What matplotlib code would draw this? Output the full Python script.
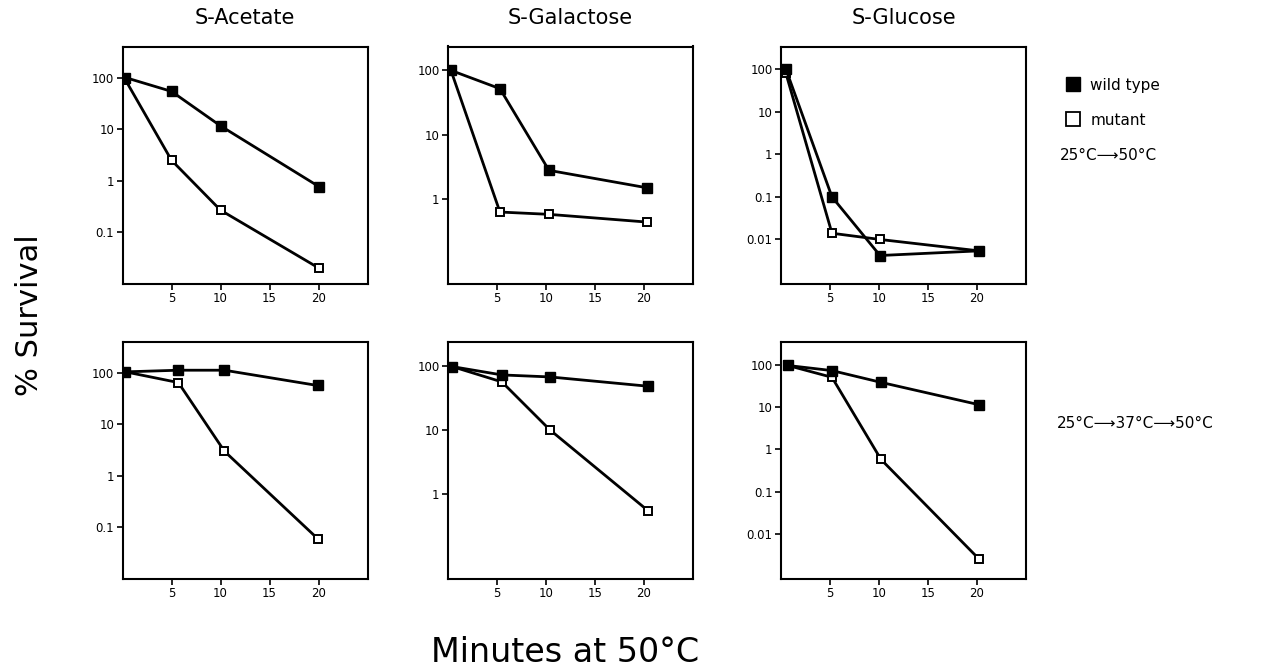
import matplotlib
matplotlib.use("Agg")
import matplotlib.pyplot as plt
from matplotlib.lines import Line2D

plt.rcParams["font.family"] = ["DejaVu Sans"]

# column titles
media = ["S-Acetate", "S-Galactose", "S-Glucose"]
tick_x = [5, 10, 15, 20]

# top row: 25C -> 50C  (minutes, % survival)
acetate_t = [0.3, 5.0, 10.0, 20.1]
acetate_wt = [100, 54, 11.6, 0.76]
acetate_mut = [90, 2.5, 0.27, 0.02]

galactose_t = [0.3, 5.3, 10.3, 20.3]
galactose_wt = [100, 52, 2.8, 1.5]
galactose_mut = [100, 0.63, 0.58, 0.44]

glucose_t = [0.5, 5.2, 10.1, 20.2]
glucose_wt = [100, 0.1, 0.0042, 0.0054]
glucose_mut = [80, 0.014, 0.01, 0.0054]

# bottom row: 25C -> 37C -> 50C
acetate2_t = [0.3, 5.7, 10.4, 19.9]
acetate2_wt = [105, 113, 113, 57]
acetate2_mut = [105, 65, 3.0, 0.06]

galactose2_t = [0.45, 5.5, 10.4, 20.4]
galactose2_wt = [97, 72, 67, 48]
galactose2_mut = [97, 56, 10, 0.55]

glucose2_t = [0.7, 5.2, 10.2, 20.2]
glucose2_wt = [95, 72, 38, 11.3]
glucose2_mut = [95, 50, 0.58, 0.0026]

# y range + labelled ticks per column
ylims = [(0.01, 400), (0.048, 235), (0.0009, 340)]
yticks = [[0.1, 1, 10, 100], [1, 10, 100], [0.01, 0.1, 1, 10, 100]]
ylabels = [["0.1", "1", "10", "100"], ["1", "10", "100"],
           ["0.01", "0.1", "1", "10", "100"]]

rows = [
    [(acetate_t, acetate_wt, acetate_mut),
     (galactose_t, galactose_wt, galactose_mut),
     (glucose_t, glucose_wt, glucose_mut)],
    [(acetate2_t, acetate2_wt, acetate2_mut),
     (galactose2_t, galactose2_wt, galactose2_mut),
     (glucose2_t, glucose2_wt, glucose2_mut)],
]

fig = plt.figure(figsize=(12.67, 6.71), dpi=100)

W, H = 1267.0, 671.0
lefts = [122.5, 448, 781]
row_box = [(46.5, 284), (342, 578.5)]  # top, bottom in px
width = 245

for r, row in enumerate(rows):
    top, bot = row_box[r]
    for c, (t, wt, mut) in enumerate(row):
        ax = fig.add_axes([lefts[c] / W, 1 - bot / H, width / W, (bot - top) / H])
        ax.set_yscale("log")
        ax.plot(t, mut, color="black", lw=2, marker="s", ms=6,
                mfc="white", mec="black", mew=1.4, zorder=3)
        ax.plot(t, wt, color="black", lw=2, marker="s", ms=6.5,
                mfc="black", mec="black", zorder=4)
        ax.set_xlim(0, 25)
        ax.set_ylim(*ylims[c])
        ax.set_xticks(tick_x)
        ax.set_xticklabels([str(v) for v in tick_x])
        ax.set_yticks(yticks[c])
        ax.set_yticklabels(ylabels[c])
        ax.minorticks_off()
        ax.tick_params(direction="out", length=4, width=1.2, labelsize=8.5, pad=2)
        for s in ax.spines.values():
            s.set_linewidth(1.5)
        if r == 0:
            ax.set_title(media[c], fontsize=15, pad=16)

fig.text(30 / W, 1 - 315 / H, "% Survival", rotation=90, fontsize=22,
         ha="center", va="center")
fig.text(565 / W, 1 - 652 / H, "Minutes at 50°C", fontsize=24,
         ha="center", va="center")

handles = [
    Line2D([], [], ls="none", marker="s", ms=10, mfc="black", mec="black"),
    Line2D([], [], ls="none", marker="s", ms=10, mfc="white", mec="black", mew=1.3),
]
fig.legend(handles, ["wild type", "mutant"], loc="upper left",
           bbox_to_anchor=(1052 / W, 1 - 64 / H), frameon=False, fontsize=11,
           handlelength=1.0, handletextpad=0.6, labelspacing=1.3)

fig.text(1060 / W, 1 - 155 / H, "25°C⟶50°C", fontsize=11, va="center")
fig.text(1057 / W, 1 - 424 / H, "25°C⟶37°C⟶50°C", fontsize=11, va="center")

fig.savefig("out.png", dpi=100)
